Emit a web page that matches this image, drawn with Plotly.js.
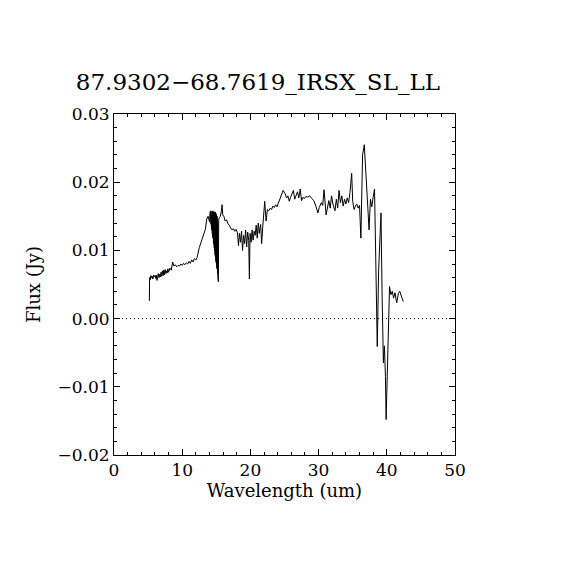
<!DOCTYPE html>
<html>
<head>
<meta charset="utf-8">
<script src="https://cdn.plot.ly/plotly-3.0.1.min.js"></script>
<style>html,body{margin:0;padding:0;background:#fff;}#chart{width:570px;height:570px;}</style>
</head>
<body>
<div id="chart"></div>
<script>
const chartTitle = "87.9302\u221268.7619_IRSX_SL_LL";
const xLabel = "Wavelength (um)";
const yLabel = "Flux (Jy)";
const xTickVals = [0, 10, 20, 30, 40, 50];
const yTickVals = [-0.02, -0.01, 0.00, 0.01, 0.02, 0.03];
const yTickText = ["\u22120.02", "\u22120.01", "0.00", "0.01", "0.02", "0.03"];

const wavelength = [
  5.18, 5.22, 5.3, 5.4, 5.5, 5.6, 5.7, 5.8, 5.9, 6.0, 6.1, 6.2, 6.3, 6.4, 6.5, 6.6, 6.7, 6.8, 6.9, 7.0,
  7.1, 7.2, 7.3, 7.4, 7.5, 7.6, 7.7, 7.8, 7.9, 8.0, 8.2, 8.4, 8.6, 8.8, 9.0, 9.2, 9.4, 9.6, 9.8, 10.0,
  10.2, 10.4, 10.6, 10.8, 11.0, 11.2, 11.4, 11.6, 11.8, 12.0, 12.2, 12.5, 12.8, 13.1, 13.4, 13.6, 13.8, 14.0,
  14.04, 14.06, 14.08, 14.10, 14.12, 14.14, 14.16, 14.18, 14.20, 14.22, 14.24, 14.26, 14.28, 14.30, 14.32, 14.34,
  14.36, 14.38, 14.40, 14.42, 14.44, 14.46, 14.48, 14.50, 14.52, 14.54, 14.56, 14.58, 14.60, 14.62, 14.64, 14.66,
  14.68, 14.70, 14.72, 14.74, 14.76, 14.78, 14.80, 14.82, 14.84, 14.86, 14.88, 14.90, 14.92, 14.94, 14.96, 14.98,
  15.00, 15.02, 15.04, 15.06, 15.08, 15.10, 15.12, 15.14, 15.16, 15.18, 15.20, 15.22, 15.24, 15.26, 15.28, 15.30,
  15.35, 15.45, 15.6, 15.75, 15.85, 15.95, 16.1, 16.3, 16.5, 16.7, 16.9, 17.1, 17.3, 17.5,
  17.7, 17.9, 18.1, 18.25, 18.4, 18.55, 18.7, 18.85, 19.0, 19.15, 19.3, 19.45, 19.6, 19.75, 19.85, 19.95, 20.1, 20.25, 20.4, 20.55,
  20.7, 20.85, 21.0, 21.15, 21.3, 21.5, 21.65, 21.8, 22.0, 22.1, 22.3, 22.5, 22.7, 22.9, 23.1, 23.3, 23.5, 23.7, 23.9, 24.1,
  24.3, 24.5, 24.8, 25.1, 25.3, 25.5, 25.7, 25.9, 26.1, 26.3, 26.5, 26.7, 26.9, 27.1, 27.3, 27.5, 27.7, 27.9, 28.1, 28.4,
  28.7, 29.0, 29.3, 29.6, 29.9, 30.1, 30.4, 30.6, 30.8, 31.1, 31.3, 31.5, 31.7, 31.9, 32.1, 32.4, 32.6, 32.8, 33.0, 33.2,
  33.4, 33.6, 33.8, 34.0, 34.2, 34.4, 34.6, 34.85, 35.0, 35.2, 35.4, 35.6, 35.8, 36.0, 36.2, 36.45, 36.7, 36.95, 37.15, 37.4,
  37.6, 37.8, 38.0, 38.2, 38.4, 38.6, 38.8, 39.0, 39.15, 39.3, 39.5, 39.65, 39.8, 39.9, 40.0, 40.2, 40.4, 40.6, 40.8, 41.0,
  41.2, 41.45, 41.7, 41.9, 42.1, 42.4
];
const flux = [
  0.0026, 0.0060, 0.0057, 0.0063, 0.0060, 0.0062, 0.0058, 0.0064, 0.0061, 0.0063, 0.0059, 0.0064, 0.0056, 0.0062, 0.0066, 0.0060, 0.0065, 0.0061, 0.0068, 0.0062,
  0.0070, 0.0063, 0.0071, 0.0064, 0.0072, 0.0066, 0.0070, 0.0067, 0.0073, 0.0068, 0.0074, 0.0071, 0.0083, 0.0077, 0.0079, 0.0076, 0.0078, 0.0077, 0.0080, 0.0078,
  0.0081, 0.0079, 0.0082, 0.0080, 0.0084, 0.0081, 0.0086, 0.0083, 0.0088, 0.0086, 0.0090, 0.0104, 0.0113, 0.0121, 0.0131, 0.0146, 0.0150, 0.0142,
  0.0156, 0.0150, 0.0152, 0.0148, 0.0157, 0.0145, 0.0154, 0.0142, 0.0158, 0.0139, 0.0151, 0.0136, 0.0156, 0.0133, 0.0153, 0.0130,
  0.0157, 0.0127, 0.0150, 0.0124, 0.0155, 0.0121, 0.0158, 0.0118, 0.0152, 0.0115, 0.0156, 0.0112, 0.0150, 0.0109, 0.0154, 0.0106,
  0.0157, 0.0103, 0.0151, 0.0100, 0.0155, 0.0097, 0.0149, 0.0094, 0.0153, 0.0091, 0.0156, 0.0088, 0.0150, 0.0085, 0.0154, 0.0082,
  0.0148, 0.0079, 0.0152, 0.0076, 0.0146, 0.0073, 0.0150, 0.0070, 0.0144, 0.0066, 0.0140, 0.0062, 0.0135, 0.0058, 0.0128, 0.0054,
  0.0145, 0.0148, 0.0150, 0.0158, 0.0167, 0.0152, 0.0150, 0.0143, 0.0145, 0.0139, 0.0137, 0.0133, 0.0130, 0.0132,
  0.0128, 0.0131, 0.0126, 0.0107, 0.0125, 0.0112, 0.0128, 0.0100, 0.0122, 0.0110, 0.0130, 0.0105, 0.0127, 0.0115, 0.0058, 0.0125, 0.0112, 0.0130, 0.0115, 0.0128,
  0.0122, 0.0137, 0.0118, 0.0140, 0.0125, 0.0138, 0.0110, 0.0133, 0.0152, 0.0172, 0.0143, 0.0160, 0.0158, 0.0162, 0.0160, 0.0165, 0.0163, 0.0167, 0.0164, 0.0170,
  0.0176, 0.0182, 0.0188, 0.0183, 0.0177, 0.0180, 0.0172, 0.0178, 0.0183, 0.0188, 0.0175, 0.0180, 0.0186, 0.0177, 0.0190, 0.0173, 0.0178, 0.0176, 0.0179, 0.0178,
  0.0180, 0.0176, 0.0173, 0.0165, 0.0155, 0.0163, 0.0170, 0.0166, 0.0189, 0.0152, 0.0165, 0.0173, 0.0162, 0.0180, 0.0168, 0.0158, 0.0175, 0.0162, 0.0188, 0.0170,
  0.0180, 0.0165, 0.0175, 0.0168, 0.0177, 0.0170, 0.0185, 0.0213, 0.0172, 0.0160, 0.0165, 0.0168, 0.0162, 0.0166, 0.0118, 0.0240, 0.0255, 0.0214, 0.0168, 0.0130,
  0.0175, 0.0164, 0.0178, 0.0190, 0.0077, -0.0041, 0.0070, 0.0130, 0.0155, 0.0040, -0.0065, -0.0040, -0.0085, -0.0148, -0.0109, -0.0020, 0.0047, 0.0035, 0.0040, 0.0030,
  0.0038, 0.0023, 0.0037, 0.0040, 0.0035, 0.0025
];

const fontFam = "DejaVu Serif, Liberation Serif, serif";

const trace = {
  x: wavelength, y: flux, type: "scatter", mode: "lines",
  line: {color: "#000", width: 1}, hoverinfo: "skip"
};

const axisCommon = {
  showgrid: false, zeroline: false, showline: true, linecolor: "#000", linewidth: 1,
  mirror: "ticks", ticks: "inside", ticklen: 6, tickwidth: 1, tickcolor: "#000",
  tickfont: {family: fontFam, size: 17, color: "#000"}
};

const layout = {
  width: 570, height: 570,
  paper_bgcolor: "#fff", plot_bgcolor: "#fff",
  margin: {l: 114, r: 115, t: 114, b: 115},
  showlegend: false,
  title: {text: chartTitle, font: {family: fontFam, size: 23, color: "#000"},
          x: 0.422, xanchor: "center", y: 1 - 82/570, yanchor: "middle", xref: "paper", yref: "container"},
  xaxis: Object.assign({}, axisCommon, {
    range: [0, 50], tickvals: xTickVals, ticktext: xTickVals.map(String),
    minor: {dtick: 2, tick0: 0, ticks: "inside", ticklen: 3, tickcolor: "#000", showgrid: false},
    title: {text: xLabel, font: {family: fontFam, size: 18, color: "#000"}, standoff: 4}
  }),
  yaxis: Object.assign({}, axisCommon, {
    range: [-0.02, 0.03], tickvals: yTickVals, ticktext: yTickText,
    minor: {dtick: 0.002, tick0: 0, ticks: "inside", ticklen: 3, tickcolor: "#000", showgrid: false},
    title: {text: yLabel, font: {family: fontFam, size: 18, color: "#000"}, standoff: 12}
  }),
  shapes: [{type: "line", xref: "paper", yref: "y", x0: 0, x1: 1, y0: 0, y1: 0,
            line: {color: "#000", width: 1, dash: "1px,3px"}}]
};

Plotly.newPlot("chart", [trace], layout, {displayModeBar: false, staticPlot: true});
</script>
</body>
</html>
